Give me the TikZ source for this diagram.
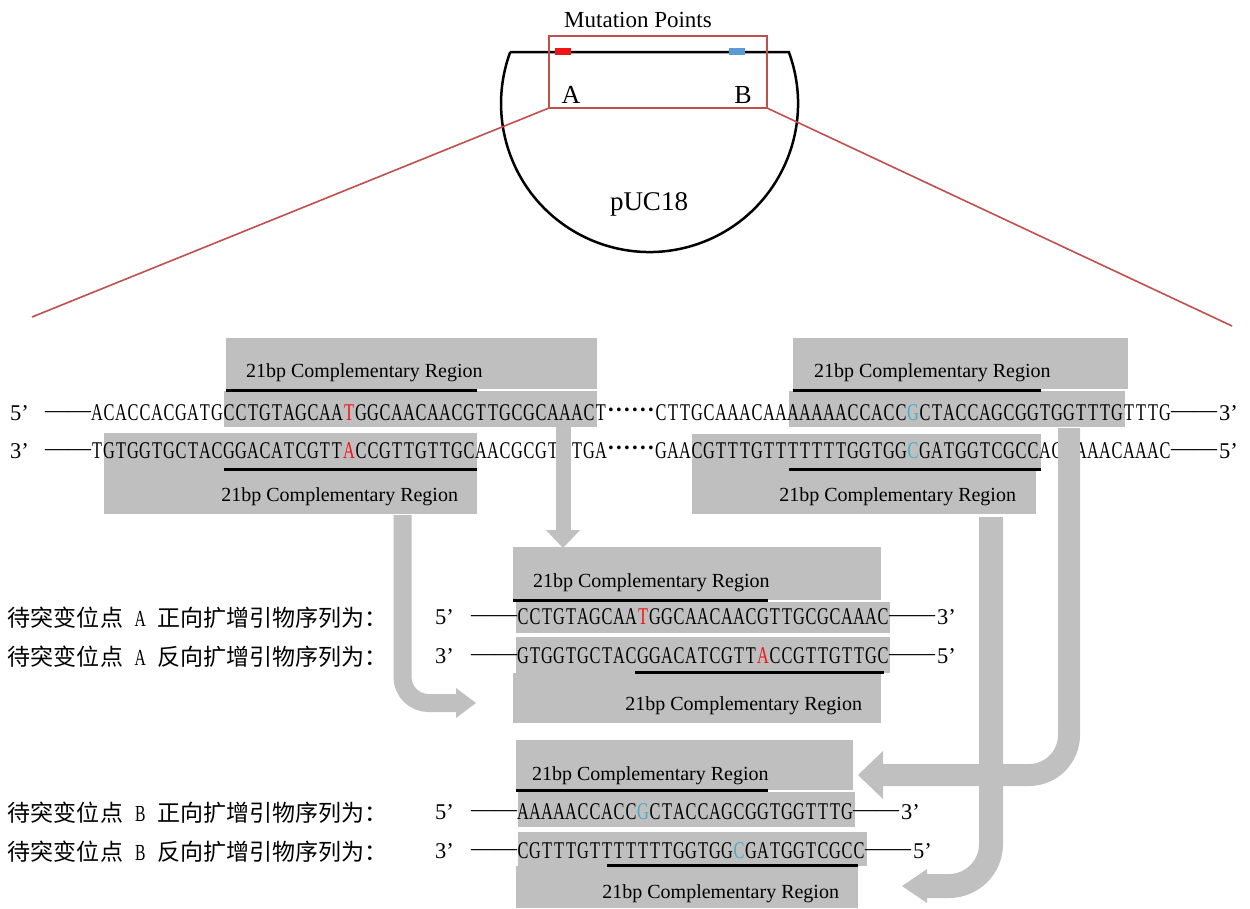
\documentclass[tikz,border=0pt]{standalone}
\usepackage{fontspec}
\setmainfont{Liberation Serif}
\newfontfamily\seqf[FakeStretch=0.68]{Liberation Serif}
\newfontfamily\cjk{Noto Sans CJK SC}
\usetikzlibrary{arrows.meta}
\definecolor{boxgray}{RGB}{191,191,191}
\definecolor{arrgray}{RGB}{192,192,192}
\definecolor{zoomred}{RGB}{192,80,77}
\definecolor{mutred}{RGB}{240,20,20}
\definecolor{mutblue}{RGB}{75,172,198}
\definecolor{markblue}{RGB}{91,155,213}
\newlength\cw \setlength\cw{12pt}
\def\mono#1{\monoi#1\relax}
\def\monoi#1{\ifx\relax#1\else\makebox[\cw][c]{#1}\expandafter\monoi\fi}
\newcommand\lab[1]{\makebox[11.5pt]{}\makebox[11.5pt]{\seqf #1}\makebox[11.5pt]{}}
\newcommand\dsh{\raisebox{2.5pt}{\fontsize{23}{23}\selectfont ——}}
\newcommand\dts{\fontsize{32}{32}\selectfont\setlength\cw{8pt}\mono{······}}
\begin{document}
\begin{tikzpicture}[x=1pt,y=-1pt,
  seqn/.style={inner sep=0pt, outer sep=0pt, anchor=base west, font=\seqf\fontsize{24}{24}\selectfont},
  endn/.style={inner sep=0pt, outer sep=0pt, anchor=base west, font=\fontsize{22.5}{22.5}\selectfont},
  dashn/.style={inner sep=0pt, outer sep=0pt, anchor=base east},
  dotn/.style={inner sep=0pt, outer sep=0pt, anchor=base west},
  tailn/.style={inner sep=0pt, outer sep=0pt, anchor=base west, font=\fontsize{22.5}{22.5}\selectfont},
  lbl/.style={inner sep=0pt, outer sep=0pt, font=\fontsize{20}{20}\selectfont},
  cn/.style={inner sep=0pt, outer sep=0pt, anchor=base west, font=\cjk\fontsize{23}{23}\selectfont},
  gbox/.style={fill=boxgray},
  ul/.style={line width=3.5pt, black},
  garrow/.style={draw=arrgray}
]
\useasboundingbox (0,0) rectangle (1250,908);
\fill[white] (0,0) rectangle (1250,908);

% ---------- plasmid ----------
\draw[line width=2.5pt] (510.2,52) -- (788.8,52) arc[start angle=-20.3, end angle=200.3, radius=148.5] -- cycle;
\fill[mutred] (555,48) rectangle (571,55);
\fill[markblue] (729,48) rectangle (745,55);
\draw[zoomred, line width=2pt] (549,36) rectangle (767,108);
\coordinate (zl) at (549,108);
\coordinate (zr) at (767,108);
\coordinate (zle) at (32,317);
\coordinate (zre) at (1232,326);
\draw[zoomred, line width=1.6pt] (zl) -- (zle);
\draw[zoomred, line width=1.6pt] (zr) -- (zre);
\node[font=\fontsize{23}{23}\selectfont] (mp) at (638,20) {Mutation Points};
\node[font=\fontsize{26}{26}\selectfont] (ptA) at (571,95) {A};
\node[font=\fontsize{26}{26}\selectfont] (ptB) at (743,95) {B};
\node[font=\fontsize{27}{27}\selectfont] (puc) at (649,204) {pUC18};

% ---------- gray boxes ----------
\fill[gbox] (226,338) rectangle (597,389);
\fill[gbox] (224,391) rectangle (597,427);
\fill[gbox] (104,433) rectangle (477,514);
\fill[gbox] (793,338) rectangle (1128,389);
\fill[gbox] (789,391) rectangle (1125,427);
\fill[gbox] (692,434) rectangle (1041,470);
\fill[gbox] (692,470) rectangle (1036,514);
\fill[gbox] (513,547) rectangle (881,600);
\fill[gbox] (516,602) rectangle (890,633);
\fill[gbox] (516,637) rectangle (890,673);
\fill[gbox] (513,673) rectangle (881,723);
\fill[gbox] (516,740) rectangle (853,790);
\fill[gbox] (518,792) rectangle (855,827);
\fill[gbox] (518,832) rectangle (867,866);
\fill[gbox] (516,866) rectangle (858,908);

% ---------- underlines ----------
\draw[ul] (226,390.5) -- (477,390.5);
\draw[ul] (224,469.5) -- (477,469.5);
\draw[ul] (793,390.5) -- (1041,390.5);
\draw[ul] (789,469.5) -- (1041,469.5);
\draw[ul] (513,600.5) -- (768,600.5);
\draw[ul] (635,672.5) -- (884,672.5);
\draw[ul] (516,790.5) -- (768,790.5);
\draw[ul] (607,865.5) -- (858,865.5);

% ---------- box labels ----------
\node[lbl, anchor=base west] (lLT) at (246,377) {21bp Complementary Region};
\node[lbl, anchor=base west] (lRT) at (814,377) {21bp Complementary Region};
\node[lbl, anchor=base east] (lLB) at (458,501) {21bp Complementary Region};
\node[lbl, anchor=base east] (lRB) at (1016,501) {21bp Complementary Region};
\node[lbl, anchor=base west] (lFA) at (533,587) {21bp Complementary Region};
\node[lbl, anchor=base east] (lRA) at (862,710) {21bp Complementary Region};
\node[lbl, anchor=base west] (lFB) at (532,780) {21bp Complementary Region};
\node[lbl, anchor=base east] (lRBB) at (839,898) {21bp Complementary Region};

% ---------- row 1 ----------
\node[endn] (r1p) at (10,420) {5’};
\node[dashn] (r1q) at (91,420) {\dsh};
\node[seqn] (r1a) at (91,420) {\mono{ACACCACGATG}};
\node[seqn] (r1b) at (r1a.base east) {\mono{CCTGTAGCAA}};
\node[seqn, text=mutred] (r1c) at (r1b.base east) {\mono{T}};
\node[seqn] (r1d) at (r1c.base east) {\mono{GGCAACAACGTTGCGCAAACT}};
\node[dotn] (r1e) at (r1d.base east) {\dts};
\node[seqn] (r1f) at (655,420) {\mono{CTTGCAAACAAAAAAACCACC}};
\node[seqn, text=mutblue] (r1g) at (r1f.base east) {\mono{G}};
\node[seqn] (r1h) at (r1g.base east) {\mono{CTACCAGCGGTGGTTTGTTTG}};
\node[tailn] (r1t) at (r1h.base east) {\dsh\kern2pt 3’};

% ---------- row 2 ----------
\node[endn] (r2p) at (10,458) {3’};
\node[dashn] (r2q) at (91,458) {\dsh};
\node[seqn] (r2a) at (91,458) {\mono{TGTGGTGCTACGGACATCGTT}};
\node[seqn, text=mutred] (r2b) at (r2a.base east) {\mono{A}};
\node[seqn] (r2c) at (r2b.base east) {\mono{CCGTTGTTGCAACGCGTTTGA}};
\node[dotn] (r2e0) at (r2c.base east) {\dts};
\node[seqn] (r2d) at (655,458) {\mono{GAACGTTTGTTTTTTTGGTGG}};
\node[seqn, text=mutblue] (r2e) at (r2d.base east) {\mono{C}};
\node[seqn] (r2f) at (r2e.base east) {\mono{GATGGTCGCCACCAAACAAAC}};
\node[tailn] (r2t) at (r2f.base east) {\dsh\kern2pt 5’};

% ---------- primer A forward ----------
\node[cn] (cFA) at (8,626) {待突变位点\lab{A}正向扩增引物序列为：};
\node[endn] (faP) at (435,624) {5’};
\node[dashn] (faD) at (517,624) {\dsh};
\node[seqn] (fa1) at (517,624) {\mono{CCTGTAGCAA}};
\node[seqn, text=mutred] (fa2) at (fa1.base east) {\mono{T}};
\node[seqn] (fa3) at (fa2.base east) {\mono{GGCAACAACGTTGCGCAAAC}};
\node[tailn] (faT) at (fa3.base east) {\dsh\kern2pt 3’};

% ---------- primer A reverse ----------
\node[cn] (cRA) at (8,665) {待突变位点\lab{A}反向扩增引物序列为：};
\node[endn] (raP) at (435,663) {3’};
\node[dashn] (raD) at (517,663) {\dsh};
\node[seqn] (ra1) at (517,663) {\mono{GTGGTGCTACGGACATCGTT}};
\node[seqn, text=mutred] (ra2) at (ra1.base east) {\mono{A}};
\node[seqn] (ra3) at (ra2.base east) {\mono{CCGTTGTTGC}};
\node[tailn] (raT) at (ra3.base east) {\dsh\kern2pt 5’};

% ---------- primer B forward ----------
\node[cn] (cFB) at (8,821) {待突变位点\lab{B}正向扩增引物序列为：};
\node[endn] (fbP) at (435,819) {5’};
\node[dashn] (fbD) at (517,819) {\dsh};
\node[seqn] (fb1) at (517,819) {\mono{AAAAACCACC}};
\node[seqn, text=mutblue] (fb2) at (fb1.base east) {\mono{G}};
\node[seqn] (fb3) at (fb2.base east) {\mono{CTACCAGCGGTGGTTTG}};
\node[tailn] (fbT) at (fb3.base east) {\dsh\kern2pt 3’};

% ---------- primer B reverse ----------
\node[cn] (cRB) at (8,860) {待突变位点\lab{B}反向扩增引物序列为：};
\node[endn] (rbP) at (435,858) {3’};
\node[dashn] (rbD) at (517,858) {\dsh};
\node[seqn] (rb1) at (517,858) {\mono{CGTTTGTTTTTTTGGTGG}};
\node[seqn, text=mutblue] (rb2) at (rb1.base east) {\mono{C}};
\node[seqn] (rb3) at (rb2.base east) {\mono{GATGGTCGCC}};
\node[tailn] (rbT) at (rb3.base east) {\dsh\kern2pt 5’};

% ---------- block arrows ----------
\coordinate (a1s) at (563,427);
\coordinate (a1e) at (563,548);
\coordinate (a2s) at (402.5,515);
\coordinate (a2e) at (476,703);
\coordinate (a3s) at (1069,428);
\coordinate (a3e) at (858,775);
\coordinate (a4s) at (991,517);
\coordinate (a4e) at (902,886);
\draw[garrow, line width=15pt, -{Triangle[length=18pt,width=34pt,line width=0pt]}] (a1s) -- (a1e);
\draw[garrow, line width=18pt, rounded corners=26pt, -{Triangle[length=20pt,width=30pt,line width=0pt]}] (a2s) |- (a2e);
\draw[garrow, line width=24pt, rounded corners=42pt, -{Triangle[length=25pt,width=34pt,line width=0pt]}] (a4s) |- (a4e);
\draw[garrow, line width=22pt, rounded corners=40pt, -{Triangle[length=25pt,width=48pt,line width=0pt]}] (a3s) |- (a3e);
\end{tikzpicture}
\end{document}
